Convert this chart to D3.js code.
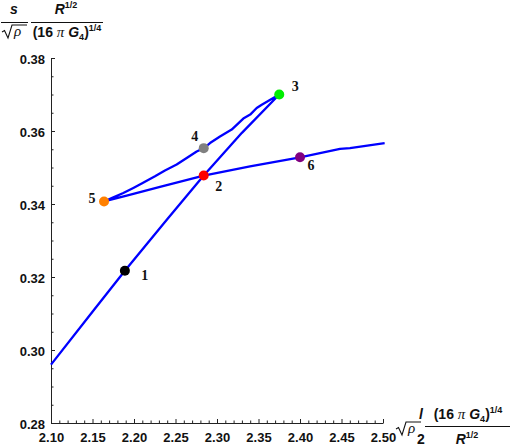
<!DOCTYPE html>
<html>
<head>
<meta charset="utf-8">
<script src="https://cdn.jsdelivr.net/npm/d3@7"></script>
<style>
  html, body { margin: 0; padding: 0; background: #fff; }
  svg { display: block; }
  .tick text { font-family: "Liberation Sans", Arial, sans-serif; font-weight: bold; font-size: 13px; fill: #111; }
  .lab { font-family: "Liberation Sans", Arial, sans-serif; font-weight: bold; font-size: 14px; fill: #111; }
  .num { font-family: "Liberation Serif", "Times New Roman", serif; font-weight: bold; font-size: 14px; fill: #111; }
</style>
</head>
<body>
<svg id="chart" width="511" height="448"></svg>
<script>
// ---------------- data ----------------
const curveX = [2.100, 2.150, 2.189, 2.240, 2.284, 2.330, 2.375,
  2.3539, 2.3478, 2.3400, 2.3317, 2.3177, 2.3036, 2.2916, 2.2843, 2.2755, 2.2635, 2.2514,
  2.2373, 2.2253, 2.2093, 2.1992, 2.1871, 2.1731, 2.1639,
  2.1912, 2.2313, 2.284, 2.3398, 2.400, 2.4482, 2.4602, 2.502];
const curveY = [0.2960, 0.3105, 0.3217, 0.3358, 0.3478, 0.3595, 0.3700,
  0.3672, 0.3663, 0.3645, 0.3634, 0.3604, 0.3585, 0.3567, 0.3553, 0.3544, 0.3526, 0.3508,
  0.3492, 0.3476, 0.3456, 0.3444, 0.3430, 0.3416, 0.3407,
  0.3423, 0.3447, 0.3478, 0.3503, 0.3528, 0.3551, 0.3553, 0.3567];

const pointLabels = ["1", "2", "3", "4", "5", "6"];
const pointX = [2.189, 2.284, 2.375, 2.284, 2.1639, 2.400];
const pointY = [0.3217, 0.3478, 0.3700, 0.3553, 0.3407, 0.3528];

const xTickLabels = ["2.10", "2.15", "2.20", "2.25", "2.30", "2.35", "2.40", "2.45", "2.50"];
const yTickLabels = ["0.28", "0.30", "0.32", "0.34", "0.36", "0.38"];

// ---------------- styles / layout ----------------
const pointColors = ["#000000", "#ff0000", "#00ee00", "#808080", "#ff8000", "#800080"];
const labelOffsets = [[20, 5], [15, 11], [16, -8], [-9, -12], [-12, -3], [11, 8]];

const svg = d3.select("#chart");
const x = d3.scaleLinear().domain([2.10, 2.50]).range([51, 383]);
const y = d3.scaleLinear().domain([0.28, 0.38]).range([423, 58]);

const xMajor = xTickLabels.map(Number);
const yMajor = yTickLabels.map(Number);
const xMinor = d3.range(0, 41).map(i => +(2.10 + i * 0.01).toFixed(2)).filter(v => !xMajor.some(m => Math.abs(m - v) < 1e-9));
const yMinor = d3.range(0, 21).map(i => +(0.28 + i * 0.005).toFixed(3)).filter(v => !yMajor.some(m => Math.abs(m - v) < 1e-9));

const axisColor = "#222";

// x axis
const gx = svg.append("g").attr("transform", `translate(0,${y(0.28)})`);
gx.call(d3.axisBottom(x).tickValues(xMajor).tickFormat((d, i) => xTickLabels[i]).tickSize(-4).tickSizeOuter(0).tickPadding(10));
const gxm = svg.append("g").attr("transform", `translate(0,${y(0.28)})`);
gxm.call(d3.axisBottom(x).tickValues(xMinor).tickFormat("").tickSize(-2.5).tickSizeOuter(0));
gxm.select(".domain").remove();

// y axis
const gy = svg.append("g").attr("transform", `translate(${x(2.10)},0)`);
gy.call(d3.axisLeft(y).tickValues(yMajor).tickFormat((d, i) => yTickLabels[i]).tickSize(-4).tickSizeOuter(0).tickPadding(6));
gy.selectAll(".tick text").attr("dy", "0.45em");
const gym = svg.append("g").attr("transform", `translate(${x(2.10)},0)`);
gym.call(d3.axisLeft(y).tickValues(yMinor).tickFormat("").tickSize(-2.5).tickSizeOuter(0));
gym.select(".domain").remove();

svg.selectAll(".domain, .tick line").attr("stroke", axisColor).attr("stroke-width", 1);

// curve
const pts = curveX.map((v, i) => [v, curveY[i]]);
svg.append("path")
  .datum(pts)
  .attr("fill", "none")
  .attr("stroke", "#0000ff")
  .attr("stroke-width", 2.3)
  .attr("stroke-linejoin", "round")
  .attr("d", d3.line().x(d => x(d[0])).y(d => y(d[1])));

// points
svg.selectAll("circle.pt").data(pointX).join("circle")
  .attr("class", "pt")
  .attr("cx", (d) => x(d))
  .attr("cy", (d, i) => y(pointY[i]))
  .attr("r", 5)
  .attr("fill", (d, i) => pointColors[i]);

svg.selectAll("text.num").data(pointLabels).join("text")
  .attr("class", "num")
  .attr("x", (d, i) => x(pointX[i]) + labelOffsets[i][0])
  .attr("y", (d, i) => y(pointY[i]) + labelOffsets[i][1])
  .attr("text-anchor", "middle")
  .attr("dominant-baseline", "central")
  .text(d => d);

// ---------- axis labels ----------
function sqrtRho(g, xx, baseY) {
  g.append("path")
    .attr("d", `M${xx},${baseY - 5} L${xx + 2.5},${baseY - 6.5} L${xx + 6},${baseY + 1} L${xx + 10},${baseY - 12} L${xx + 25},${baseY - 12}`)
    .attr("fill", "none").attr("stroke", "#111").attr("stroke-width", 1.1);
  g.append("text").attr("x", xx + 12).attr("y", baseY - 1)
    .attr("font-family", "Liberation Serif, serif").attr("font-style", "italic").attr("font-size", 15).attr("fill", "#111")
    .text("ρ");
}

function gTerm(textSel) {
  textSel.append("tspan").text("(16 ");
  textSel.append("tspan").attr("font-family", "Liberation Serif, serif").attr("font-style", "italic").attr("font-weight", "normal").attr("font-size", 15).text("π");
  textSel.append("tspan").attr("font-style", "italic").text(" G");
  textSel.append("tspan").attr("font-size", 9).attr("dy", 3).text("4");
  textSel.append("tspan").attr("dy", -3).text(")");
  textSel.append("tspan").attr("font-size", 9).attr("dy", -6).text("1/4");
}
function rTerm(textSel) {
  textSel.append("tspan").attr("font-style", "italic").text("R");
  textSel.append("tspan").attr("font-size", 9).attr("dy", -6).text("1/2");
}

// Y label (top-left)
const yl = svg.append("g");
yl.append("text").attr("class", "lab").attr("x", 14).attr("y", 14).attr("text-anchor", "middle").attr("font-style", "italic").text("s");
yl.append("line").attr("x1", 1).attr("x2", 28).attr("y1", 22.5).attr("y2", 22.5).attr("stroke", "#111").attr("stroke-width", 1);
sqrtRho(yl, 2, 37);
const yr = yl.append("text").attr("class", "lab").attr("x", 66).attr("y", 14).attr("text-anchor", "middle");
rTerm(yr);
yl.append("line").attr("x1", 31).attr("x2", 103).attr("y1", 22.5).attr("y2", 22.5).attr("stroke", "#111").attr("stroke-width", 1);
const yg = yl.append("text").attr("class", "lab").attr("x", 67).attr("y", 37).attr("text-anchor", "middle");
gTerm(yg);

// X label (bottom-right)
const xl = svg.append("g");
sqrtRho(xl, 396, 434);
xl.append("text").attr("class", "lab").attr("x", 421).attr("y", 419).attr("text-anchor", "middle").attr("font-style", "italic").text("l");
xl.append("text").attr("class", "lab").attr("x", 421).attr("y", 444).attr("text-anchor", "middle").text("2");
xl.append("line").attr("x1", 425).attr("x2", 510).attr("y1", 426.5).attr("y2", 426.5).attr("stroke", "#111").attr("stroke-width", 1);
const xg = xl.append("text").attr("class", "lab").attr("x", 468).attr("y", 419).attr("text-anchor", "middle");
gTerm(xg);
const xr = xl.append("text").attr("class", "lab").attr("x", 467).attr("y", 444).attr("text-anchor", "middle");
rTerm(xr);
</script>
</body>
</html>
